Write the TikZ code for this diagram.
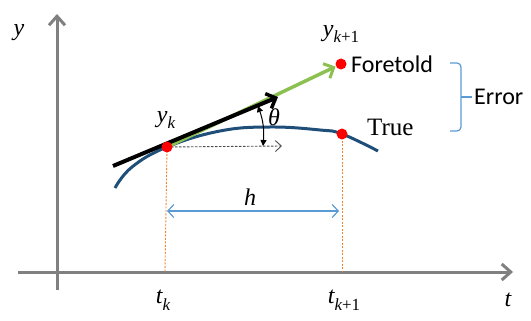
\documentclass[tikz,border=0pt]{standalone}
\usepackage{fontspec}
\setmainfont{Carlito}
\newfontfamily\serifface{Liberation Serif}
\usetikzlibrary{arrows.meta,calc}
\definecolor{axisgray}{HTML}{808080}
\definecolor{curveblue}{HTML}{1F4E79}
\definecolor{lightblue}{HTML}{5B9BD5}
\definecolor{fgreen}{HTML}{8CC152}
\definecolor{dashorange}{HTML}{F4822A}
\definecolor{dotred}{HTML}{FF0000}
\newcommand{\myvar}[2]{{\serifface\itshape #1}\raisebox{-0.28em}{\fontsize{17}{19}\selectfont\serifface #2}}
\tikzset{
  axisline/.style={draw=axisgray, line width=3pt, -{Straight Barb[length=9pt,width=16pt,line width=3pt]}},
  dotnode/.style={circle, fill=dotred, inner sep=0pt, minimum size=11pt},
  guide/.style={draw=dashorange, dashed, dash pattern=on 2pt off 1.5pt, line width=0.9pt},
  lbl/.style={font=\fontsize{24}{28}\selectfont, inner sep=1pt},
  mlbl/.style={font=\fontsize{24}{28}\selectfont\serifface\itshape, inner sep=1pt},
}
\begin{document}
\begin{tikzpicture}[x=1pt,y=-1pt]
\useasboundingbox (0,0) rectangle (531,321);
% axes
\coordinate (yb) at (57,290);
\coordinate (yt) at (57,14);
\coordinate (xl) at (18,272);
\coordinate (xr) at (513,272);
\draw[axisline] (yb) -- (yt);
\draw[axisline] (xl) -- (xr);
\node[mlbl] (ylab) at (19,33) {y};
\node[mlbl] (tlab) at (508,300) {t};
% points (positions)
\coordinate (ck) at (167,147);
\coordinate (ck1) at (342,134);
\coordinate (cf) at (341,64);
\coordinate (tka) at (165,272);
\coordinate (tkb) at (342,272);
% guides
\draw[guide] (ck) -- (tka);
\draw[guide] (ck1) -- (tkb);
% curve
\draw[curveblue, line width=3pt] plot[smooth, tension=0.7] coordinates {(115,188) (132,167) (167,147) (220,131) (270,127) (320,130) (342,134) (378,151)};
% h arrow
\coordinate (ha) at (167,211);
\coordinate (hb) at (339,211);
\draw[lightblue, line width=1.2pt, {Straight Barb[length=6pt,width=13pt,line width=1.2pt]}-{Straight Barb[length=6pt,width=13pt,line width=1.2pt]}] (ha) -- (hb);
\node[mlbl] (hlab) at (250,197) {h};
% green arrow
\coordinate (gend) at ($(cf)!6pt!(ck)$);
\draw[fgreen, line width=3.5pt, -{Straight Barb[length=8pt,width=16pt,line width=3pt]}] (ck) -- (gend);
% black tangent arrow
\coordinate (bs) at (113,166);
\coordinate (bt) at (278,97);
\draw[black, line width=4pt, -{Straight Barb[length=8pt,width=16pt,line width=3.5pt]}] (bs) -- (bt);
% dashed horizontal
\coordinate (dh) at (282,146);
\draw[black!70, dashed, dash pattern=on 2.5pt off 1.5pt, line width=0.9pt, -{Straight Barb[length=6pt,width=11pt,line width=0.9pt]}] (ck) -- (dh);
% angle arrow
\coordinate (aa) at (258,106);
\coordinate (ab) at (263,146);
\draw[black, line width=1pt, {Triangle[length=6pt,width=6pt]}-{Triangle[length=6pt,width=6pt]}] (aa) to[bend left=12] (ab);
\node[mlbl] (thlab) at (274,117) {θ};
% dots
\node[dotnode] (pk) at (ck) {};
\node[dotnode] (pk1) at (ck1) {};
\node[dotnode] (pf) at (cf) {};
% labels
\node[lbl] (yklab) at (166,120) {\myvar{y}{\itshape k}};
\node[lbl] (yk1lab) at (341,34) {\myvar{y}{{\itshape k}+1}};
\node[lbl, anchor=west] (fore) at (350,64) {Foretold};
\node[lbl, anchor=west, font=\fontsize{25}{28}\selectfont\serifface] (true) at (366,127) {True};
\node[lbl] (tk) at (163,300) {\myvar{t}{\itshape k}};
\node[lbl] (tk1) at (344,300) {\myvar{t}{{\itshape k}+1}};
% bracket
\coordinate (b1) at (450,63);
\coordinate (b2) at (450,131);
\coordinate (bm) at (472,97);
\draw[lightblue, line width=1.2pt, rounded corners=4pt] (b1) -- (461,63) -- (461,131) -- (b2);
\draw[lightblue, line width=1.2pt] (461,97) -- (bm);
\node[lbl, anchor=west] (err) at (473,97) {Error};
\end{tikzpicture}
\end{document}
